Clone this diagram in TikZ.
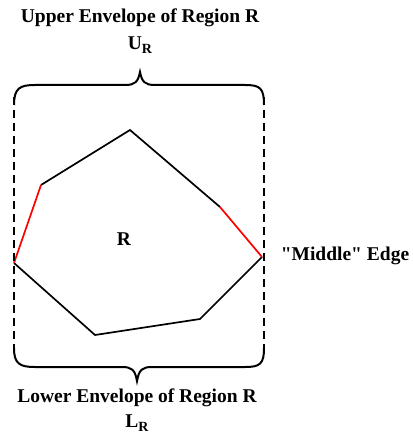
\documentclass[tikz,border=0pt]{standalone}
\usepackage{fontspec}
\setmainfont{Liberation Serif}
\newfontfamily\qfont{Liberation Serif}
\begin{document}
\begin{tikzpicture}[x=1pt,y=-1pt,
  lbl/.style={font=\fontsize{19.5}{22}\selectfont\bfseries, inner sep=0pt},
  edge/.style={line width=1.7pt},
  redge/.style={line width=1.7pt, draw=red},
  brace/.style={line width=2pt},
  bound/.style={line width=2.2pt, dash pattern=on 8pt off 5pt}]
\useasboundingbox (0,0) rectangle (412,435);
% polygon vertices
\coordinate (p1) at (14,263);
\coordinate (p2) at (41,185);
\coordinate (p3) at (130,130);
\coordinate (p4) at (220,207);
\coordinate (p5) at (262,257);
\coordinate (p6) at (200,319);
\coordinate (p7) at (95,335);
\draw[edge] (p2) -- (p3) -- (p4);
\draw[edge] (p5) -- (p6) -- (p7) -- (p1);
\draw[redge] (p1) -- (p2);
\draw[redge] (p4) -- (p5);
% dashed bounds
\coordinate (lt) at (14,97);
\coordinate (lb) at (14,357);
\coordinate (rt) at (264,97);
\coordinate (rb) at (264,357);
\draw[bound] (lt) -- (lb);
\draw[bound] (rt) -- (rb);
% upper brace
\coordinate (ut) at (140,72);
\draw[brace] (14,105) .. controls (14,88) and (20,85) .. (35,85) -- (125,85)
  .. controls (135,85) and (138,82) .. (ut)
  .. controls (142,82) and (145,85) .. (155,85) -- (245,85)
  .. controls (260,85) and (264,88) .. (264,105);
% lower brace
\coordinate (lt2) at (137,381);
\draw[brace] (14,348) .. controls (14,364) and (20,367) .. (35,367) -- (122,367)
  .. controls (132,367) and (135,370) .. (lt2)
  .. controls (139,370) and (142,367) .. (152,367) -- (245,367)
  .. controls (260,367) and (264,364) .. (264,348);
% labels
\node[lbl] (upper) at (140,18) {Upper Envelope of Region R};
\node[lbl] (ur) at (140,45) {U\raisebox{-4pt}{\fontsize{14}{15}\selectfont R}};
\node[lbl] (lower) at (137,398) {Lower Envelope of Region R};
\node[lbl] (lr) at (137,423) {L\raisebox{-4pt}{\fontsize{14}{15}\selectfont R}};
\node[lbl] (r) at (124,239) {R};
\node[lbl] (mid) at (345,256) {\qfont\bfseries "Middle" Edge};
\end{tikzpicture}
\end{document}
